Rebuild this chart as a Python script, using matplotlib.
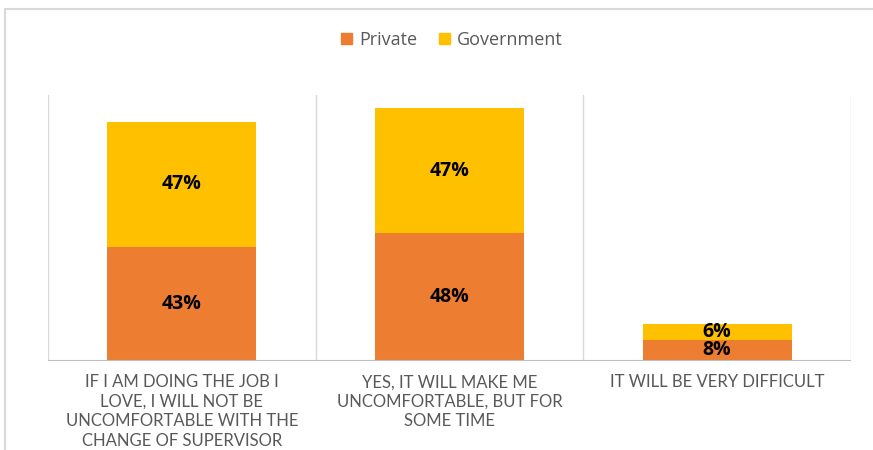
import numpy as np
import matplotlib.pyplot as plt
from matplotlib.patches import Rectangle, Patch

# data
categories = [
    "IF I AM DOING THE JOB I\nLOVE, I WILL NOT BE\nUNCOMFORTABLE WITH THE\nCHANGE OF SUPERVISOR",
    "YES, IT WILL MAKE ME\nUNCOMFORTABLE, BUT FOR\nSOME TIME",
    "IT WILL BE VERY DIFFICULT",
]
private = [43, 48, 8]
government = [47, 47, 6]
series_names = ["Private", "Government"]

orange = "#ED7D31"
gold = "#FFC000"
grey_text = "#595959"

plt.rcParams['font.family'] = ['Open Sans', 'DejaVu Sans']

fig = plt.figure(figsize=(8.73, 4.5), dpi=100)
# outer chart border (cropped on right/bottom)
fig.patches.append(Rectangle((5 / 873, -0.1), 1.2, 1 - 9 / 450 + 0.1,
                             transform=fig.transFigure, fill=False,
                             edgecolor="#D9D9D9", linewidth=1.5))

ax = fig.add_axes([48 / 873, 1 - 361 / 450, (851 - 48) / 873, (361 - 95) / 450])
x = np.arange(len(categories))
w = 0.556
ax.bar(x, private, w, color=orange, zorder=3)
ax.bar(x, government, w, bottom=private, color=gold, zorder=3)

for i in range(len(x)):
    ax.text(x[i], private[i] / 2, f"{private[i]}%", ha="center", va="center",
            fontsize=14, fontweight="bold", color="black", zorder=4)
    ax.text(x[i], private[i] + government[i] / 2, f"{government[i]}%", ha="center",
            va="center", fontsize=14, fontweight="bold", color="black", zorder=4)

ax.set_xlim(-0.5, 2.5)
ax.set_ylim(0, 100)
for b in [-0.5, 0.5, 1.5, 2.5]:
    ax.axvline(b, color="#D9D9D9", linewidth=1, zorder=1)
for s in ax.spines.values():
    s.set_visible(False)
ax.axhline(0, color="#BFBFBF", linewidth=1.5, zorder=5)
ax.set_yticks([])
ax.set_xticks(x)
ax.set_xticklabels(categories, fontsize=12, color=grey_text, linespacing=1.28,
                   family=['Lato', 'DejaVu Sans'])
ax.tick_params(axis="x", length=0, pad=9.5)

handles = [Patch(color=orange), Patch(color=gold)]
fig.legend(handles, series_names, loc="center", bbox_to_anchor=(452 / 873, 1 - 40 / 450),
           ncol=2, frameon=False, fontsize=13, labelcolor=grey_text,
           handlelength=0.6, handleheight=0.6, handletextpad=0.4, columnspacing=1.2)

fig.savefig("out.png", dpi=100)
